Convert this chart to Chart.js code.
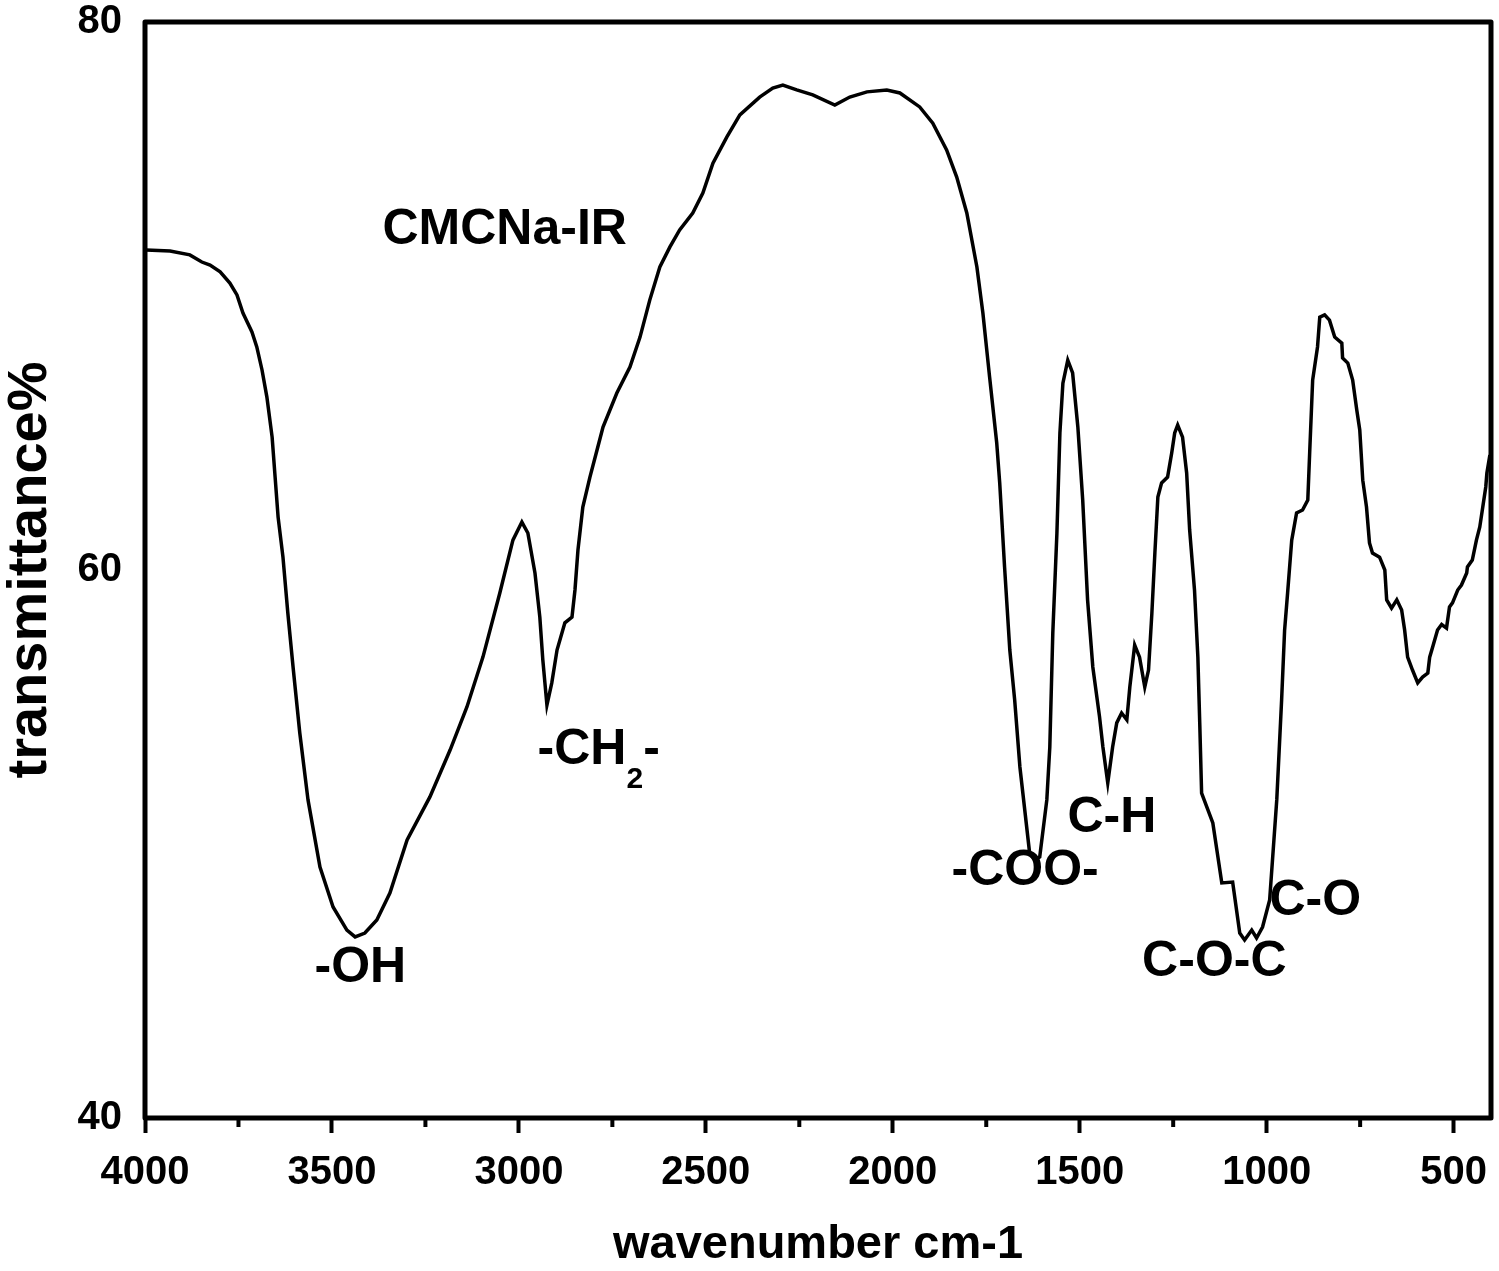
<!DOCTYPE html>
<html>
<head>
<meta charset="utf-8">
<title>CMCNa-IR</title>
<script src="https://cdn.jsdelivr.net/npm/chart.js@4.4.1/dist/chart.umd.min.js"></script>
<style>
  html, body { margin: 0; padding: 0; background: #fff; }
  canvas { display: block; }
</style>
</head>
<body>
<canvas id="irChart" width="1499" height="1271"></canvas>
<script>
// spectrum (cm-1, %T)
const wavenumber = [
  3997, 3933, 3880, 3848, 3826, 3799, 3773, 3754, 3738, 3714, 3701, 3687, 3674, 3660, 3652, 3644,
  3631, 3618, 3604, 3586, 3564, 3532, 3497, 3460, 3438, 3412, 3380, 3345, 3299, 3238, 3184, 3139,
  3096, 3051, 3016, 2992, 2976, 2957, 2944, 2936, 2925, 2912, 2898, 2877, 2858, 2850, 2842, 2829,
  2810, 2791, 2775, 2738, 2703, 2676, 2650, 2623, 2596, 2570, 2535, 2508, 2481, 2444, 2409, 2356,
  2321, 2294, 2257, 2214, 2155, 2115, 2069, 2016, 1981, 1928, 1893, 1856, 1829, 1802, 1775, 1759,
  1741, 1722, 1714, 1701, 1687, 1674, 1660, 1634, 1620, 1607, 1588, 1580, 1572, 1561, 1553, 1545,
  1532, 1519, 1505, 1492, 1479, 1465, 1447, 1438, 1425, 1412, 1401, 1388, 1374, 1366, 1353, 1340,
  1326, 1316, 1307, 1299, 1291, 1281, 1265, 1254, 1246, 1238, 1225, 1214, 1206, 1193, 1184, 1179,
  1174, 1144, 1120, 1091, 1072, 1059, 1040, 1027, 1011, 992, 973, 960, 952, 944, 933, 920,
  904, 890, 885, 877, 864, 858, 845, 832, 818, 799, 797, 783, 770, 759, 751, 743,
  733, 725, 717, 698, 684, 679, 666, 652, 639, 631, 623, 610, 596, 583, 569, 564,
  556, 543, 532, 519, 511, 503, 489, 479, 465, 463, 450, 439, 430, 422, 414, 411, 403
];
const transmittance = [
  71.68, 71.64, 71.50, 71.24, 71.13, 70.88, 70.47, 70.04, 69.38, 68.69, 68.14, 67.30, 66.31, 64.85, 63.39, 61.93,
  60.47, 58.43, 56.46, 54.05, 51.61, 49.16, 47.70, 46.86, 46.61, 46.75, 47.23, 48.21, 50.15, 51.72, 53.43, 55.00,
  56.83, 59.16, 61.09, 61.75, 61.35, 59.89, 58.28, 56.72, 55.07, 55.88, 57.08, 58.07, 58.28, 59.27, 60.73, 62.30,
  63.39, 64.38, 65.22, 66.46, 67.41, 68.50, 69.85, 71.06, 71.79, 72.41, 73.03, 73.76, 74.85, 75.80, 76.61, 77.26,
  77.59, 77.70, 77.52, 77.34, 76.97, 77.26, 77.45, 77.52, 77.41, 76.90, 76.31, 75.33, 74.34, 73.03, 71.06, 69.38,
  67.04, 64.64, 63.18, 60.11, 57.08, 55.26, 52.81, 49.67, 49.42, 49.53, 51.61, 53.54, 57.70, 61.35, 65.00, 66.82,
  67.66, 67.19, 65.22, 62.55, 58.91, 56.46, 54.64, 53.54, 52.23, 53.54, 54.42, 54.78, 54.53, 55.73, 57.26, 56.82,
  55.73, 56.35, 58.43, 60.62, 62.66, 63.18, 63.39, 64.27, 65.00, 65.29, 64.85, 63.54, 61.46, 59.27, 56.82, 54.42,
  51.86, 50.77, 48.58, 48.61, 46.75, 46.50, 46.86, 46.57, 46.97, 47.96, 51.61, 55.26, 57.81, 59.16, 61.09, 62.08,
  62.19, 62.55, 64.27, 66.93, 68.14, 69.23, 69.31, 69.12, 68.50, 68.28, 67.74, 67.55, 66.93, 65.84, 65.11, 63.28,
  62.30, 60.99, 60.62, 60.47, 60.00, 58.91, 58.61, 58.91, 58.54, 57.81, 56.82, 56.35, 55.88, 56.09, 56.24, 56.82,
  57.19, 57.81, 58.01, 57.88, 58.65, 58.80, 59.27, 59.45, 59.89, 60.11, 60.36, 61.09, 61.57, 62.30, 63.03, 63.54, 64.20
];

const xTickValues = [4000, 3500, 3000, 2500, 2000, 1500, 1000, 500];
const xMinorTicks = [3750, 3250, 2750, 2250, 1750, 1250, 750];
const yTickValues = [40, 60, 80];

// peak labels, placed in data units
const peakLabels = ["CMCNa-IR", "-OH", "-COO-", "C-H", "C-O-C", "C-O"];
const peakLabelX = [3038, 3424, 1646, 1414, 1140, 870];
const peakLabelY = [72.41, 45.47, 49.01, 50.95, 45.69, 47.92];
const ch2LabelX = 2950;   // left edge of "-CH2-"
const ch2LabelY = 53.43;

const FONT = '"Liberation Sans", Arial, sans-serif';

const frameAndLabels = {
  id: "frameAndLabels",
  afterDraw(chart) {
    const { ctx, chartArea: a, scales: { x, y } } = chart;
    ctx.save();
    ctx.strokeStyle = "#000";
    ctx.fillStyle = "#000";
    ctx.lineWidth = 5;
    ctx.lineJoin = "round";
    ctx.strokeRect(a.left, a.top, a.right - a.left, a.bottom - a.top);

    // short minor ticks below the axis
    ctx.lineWidth = 4;
    xMinorTicks.forEach(v => {
      const px = x.getPixelForValue(v);
      ctx.beginPath();
      ctx.moveTo(px, a.bottom);
      ctx.lineTo(px, a.bottom + 9);
      ctx.stroke();
    });

    ctx.font = "bold 50px " + FONT;
    ctx.textAlign = "center";
    ctx.textBaseline = "middle";
    peakLabels.forEach((t, i) => {
      ctx.fillText(t, x.getPixelForValue(peakLabelX[i]), y.getPixelForValue(peakLabelY[i]));
    });

    // -CH2- with subscript
    let px = x.getPixelForValue(ch2LabelX);
    const py = y.getPixelForValue(ch2LabelY);
    ctx.textAlign = "left";
    ctx.fillText("-CH", px, py);
    px += ctx.measureText("-CH").width;
    ctx.font = "bold 30px " + FONT;
    ctx.fillText("2", px, py + 30);
    px += ctx.measureText("2").width;
    ctx.font = "bold 50px " + FONT;
    ctx.fillText("-", px, py);
    ctx.restore();
  }
};

new Chart(document.getElementById("irChart"), {
  type: "line",
  data: {
    datasets: [{
      data: wavenumber.map((w, i) => ({ x: w, y: transmittance[i] })),
      borderColor: "#000",
      borderWidth: 3.5,
      pointRadius: 0,
      tension: 0,
      fill: false
    }]
  },
  options: {
    responsive: false,
    devicePixelRatio: 1,
    animation: false,
    layout: { padding: { top: 22, right: 8, left: 0, bottom: 0 } },
    plugins: { legend: { display: false }, tooltip: { enabled: false } },
    scales: {
      x: {
        type: "linear",
        reverse: true,
        min: 400,
        max: 4000,
        afterBuildTicks: s => { s.ticks = xTickValues.map(v => ({ value: v })); },
        afterFit: s => { s.height = 153; s.paddingLeft = 0; s.paddingRight = 0; },
        border: { display: false },
        grid: { drawOnChartArea: false, drawTicks: true, tickLength: 15, tickWidth: 4, tickColor: "#000" },
        ticks: {
          color: "#000", padding: 16, maxRotation: 0,
          callback: v => String(v),
          font: { family: FONT, size: 40, weight: "bold" }
        },
        title: {
          display: true,
          text: "wavenumber cm-1",
          color: "#000",
          padding: { top: 0, bottom: 2 },
          font: { family: FONT, size: 47, weight: "bold", lineHeight: 1 }
        }
      },
      y: {
        min: 40,
        max: 80,
        afterBuildTicks: s => { s.ticks = yTickValues.map(v => ({ value: v })); },
        afterFit: s => { s.width = 145; s.paddingTop = 0; s.paddingBottom = 0; },
        border: { display: false },
        grid: { display: false, drawTicks: false },
        ticks: {
          color: "#000", padding: 23,
          callback: v => String(v),
          font: { family: FONT, size: 40, weight: "bold" }
        },
        title: {
          display: true,
          text: "transmittance%",
          color: "#000",
          padding: { top: 3, bottom: 0 },
          font: { family: FONT, size: 56, weight: "bold", lineHeight: 1 }
        }
      }
    }
  },
  plugins: [frameAndLabels]
});
</script>
</body>
</html>
